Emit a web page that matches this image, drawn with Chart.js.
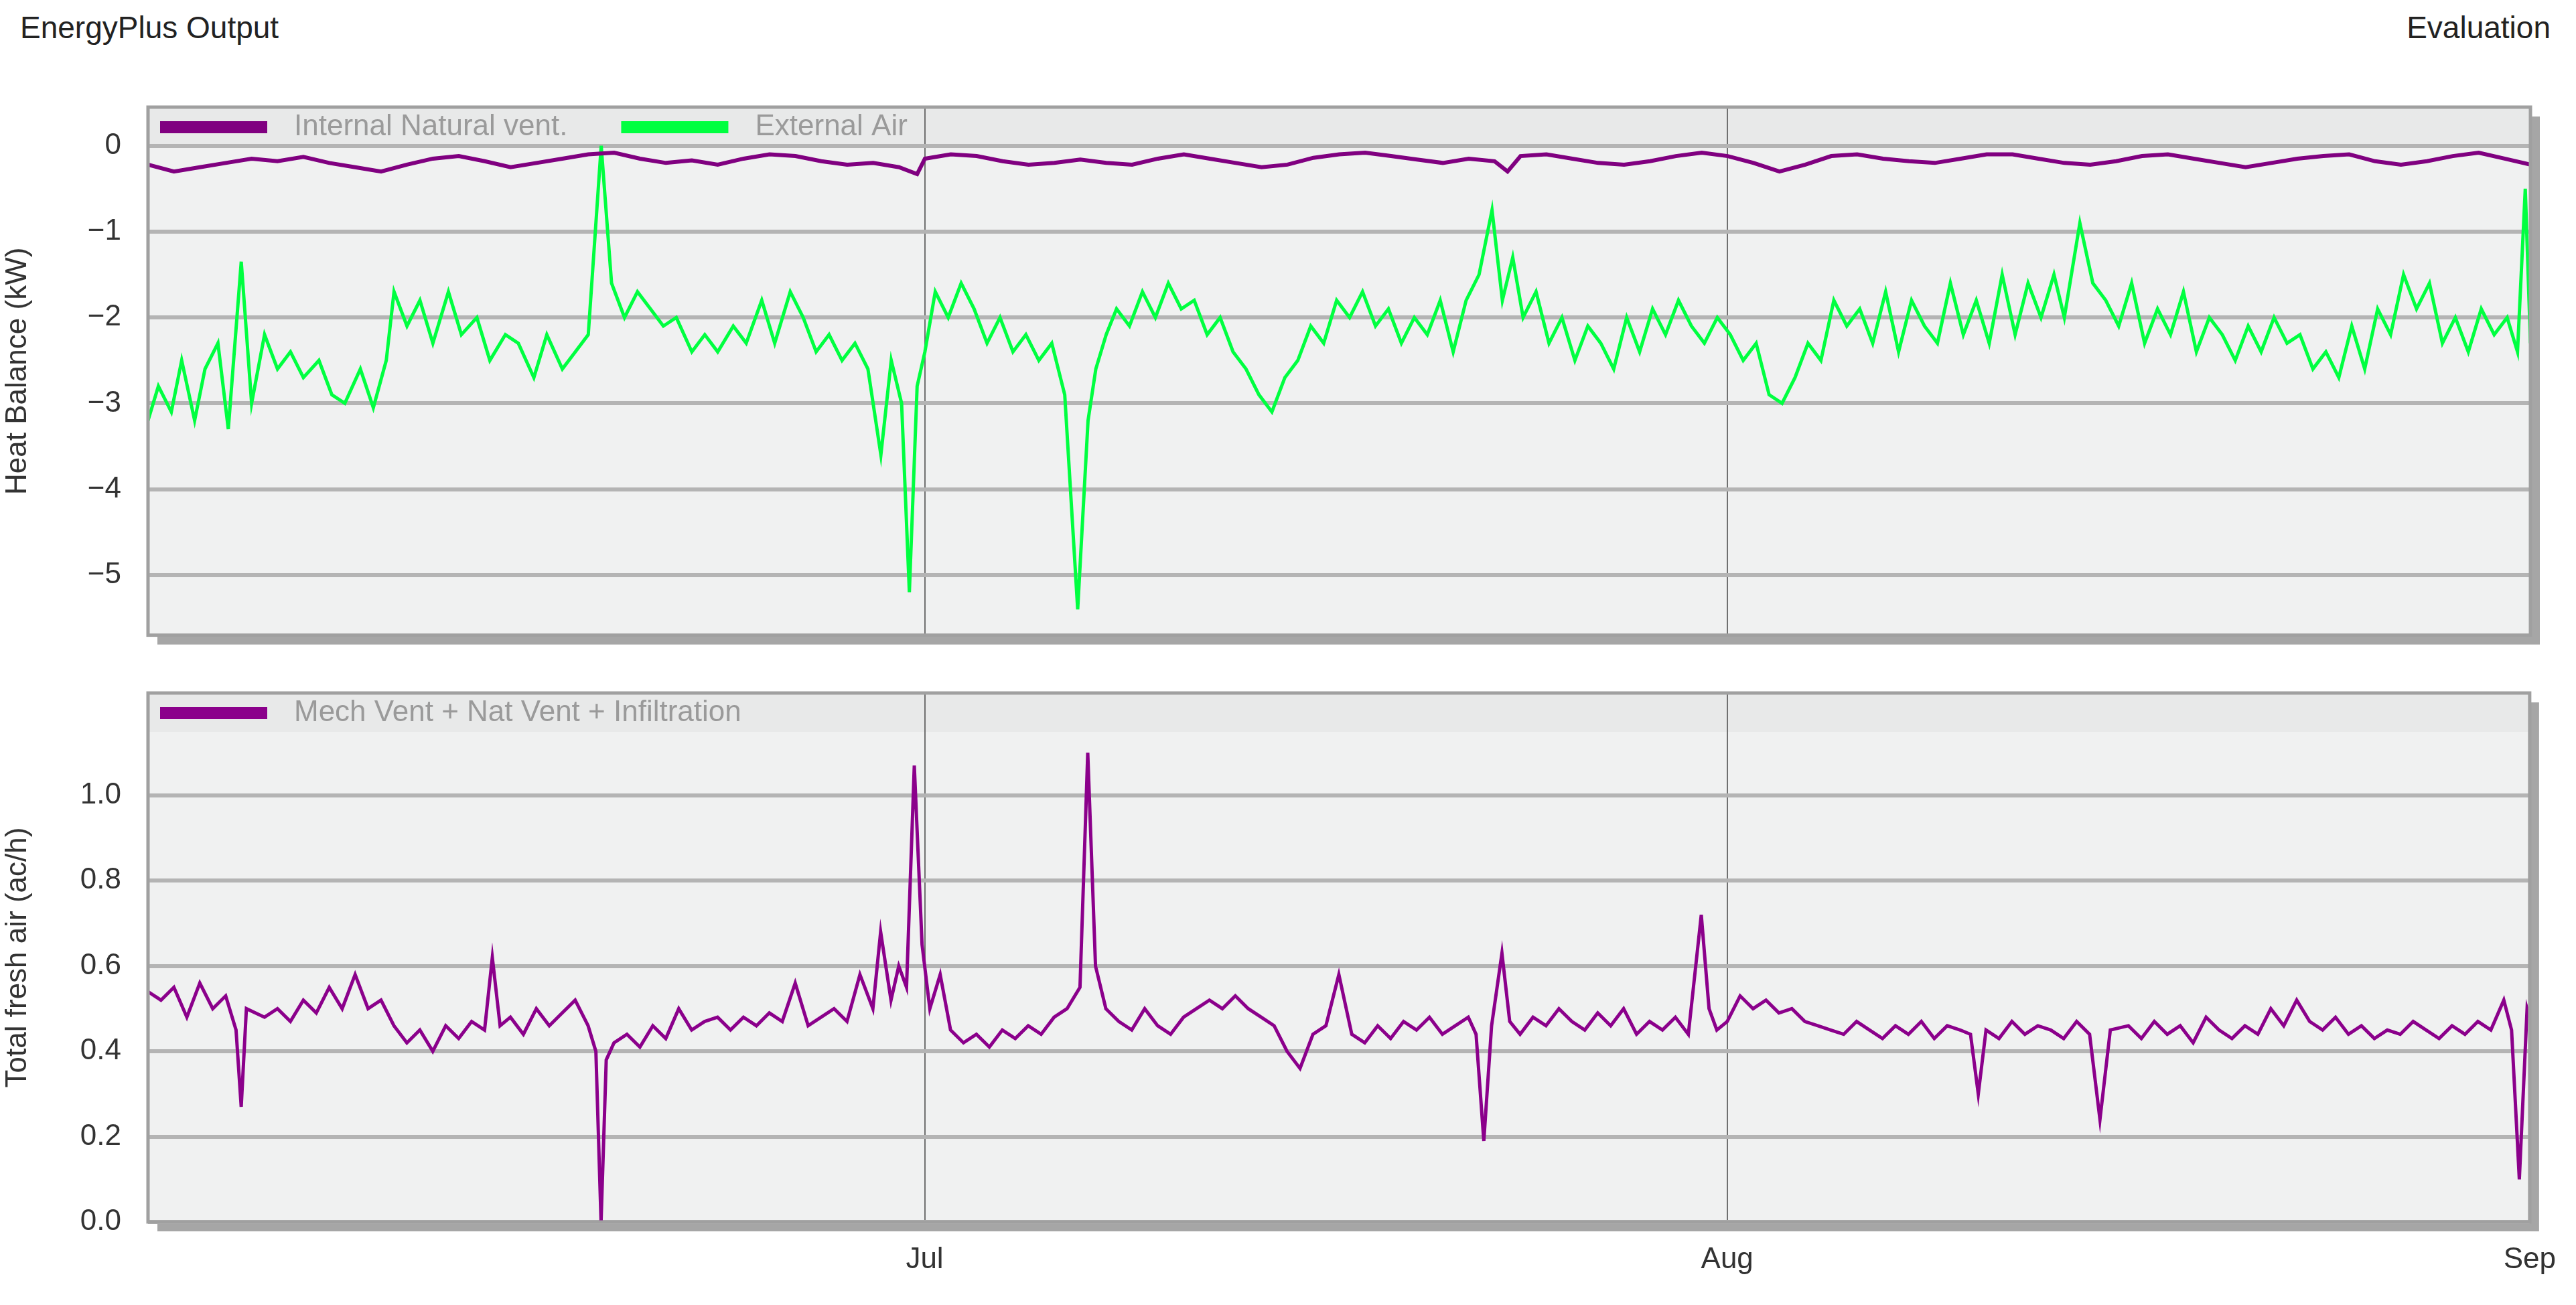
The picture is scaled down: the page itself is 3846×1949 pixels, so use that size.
<!DOCTYPE html>
<html>
<head>
<meta charset="UTF-8">
<title>EnergyPlus Output</title>
<script src="https://cdn.jsdelivr.net/npm/chart.js"></script>
<style>
    body { margin: 0; background: #fff; font-family: "Liberation Sans", Arial, sans-serif; }
    #wrap { position: relative; width: 3846px; height: 1949px; }
    .hdr { position: absolute; top: 14px; font-size: 46px; color: #222; }
    canvas { position: absolute; left: 0; }
</style>
</head>
<body>
<div id="wrap">
    <div class="hdr" style="left:30px">EnergyPlus Output</div>
    <div class="hdr" style="right:38px">Evaluation</div>
    <canvas id="heatChart" style="top:0"></canvas>
    <canvas id="airChart" style="top:960px"></canvas>
</div>
<script>
    // days since 1 Jun
    const monthTicks = [30, 61, 92];
    const monthLabels = ['Jul', 'Aug', 'Sep'];

    const intDays = [0,1,2,3,4,5,6,7,8,9,10,11,12,13,14,15,16,17,18,19,20,21,22,23,24,25,26,27,28,29,29.7,30,31,32,33,34,35,36,37,38,39,40,41,42,43,44,45,46,47,48,49,50,51,52,52.5,53,54,55,56,57,58,59,60,61,62,63,64,65,66,67,68,69,70,71,72,73,74,75,76,77,78,79,80,81,82,83,84,85,86,87,88,89,90,91,92];
    const intKW = [-0.22,-0.3,-0.25,-0.2,-0.15,-0.18,-0.13,-0.2,-0.25,-0.3,-0.22,-0.15,-0.12,-0.18,-0.25,-0.2,-0.15,-0.1,-0.08,-0.15,-0.2,-0.17,-0.22,-0.15,-0.1,-0.12,-0.18,-0.22,-0.2,-0.25,-0.33,-0.15,-0.1,-0.12,-0.18,-0.22,-0.2,-0.16,-0.2,-0.22,-0.15,-0.1,-0.15,-0.2,-0.25,-0.22,-0.14,-0.1,-0.08,-0.12,-0.16,-0.2,-0.15,-0.18,-0.3,-0.12,-0.1,-0.15,-0.2,-0.22,-0.18,-0.12,-0.08,-0.12,-0.2,-0.3,-0.22,-0.12,-0.1,-0.15,-0.18,-0.2,-0.15,-0.1,-0.1,-0.15,-0.2,-0.22,-0.18,-0.12,-0.1,-0.15,-0.2,-0.25,-0.2,-0.15,-0.12,-0.1,-0.18,-0.22,-0.18,-0.12,-0.08,-0.15,-0.22];

    const extDays = [0,0.4,0.9,1.3,1.8,2.2,2.7,3.1,3.6,4.0,4.5,5.0,5.5,6.0,6.6,7.1,7.6,8.2,8.7,9.2,9.5,10.0,10.5,11.0,11.6,12.1,12.7,13.2,13.8,14.3,14.9,15.4,16.0,16.5,17.0,17.5,17.9,18.4,18.9,19.4,19.9,20.4,21.0,21.5,22.0,22.6,23.1,23.7,24.2,24.8,25.3,25.8,26.3,26.8,27.3,27.8,28.3,28.7,29.1,29.4,29.7,30.0,30.4,30.9,31.4,31.9,32.4,32.9,33.4,33.9,34.4,34.9,35.4,35.9,36.3,36.6,37.0,37.4,37.9,38.4,38.9,39.4,39.9,40.4,40.9,41.4,41.9,42.4,42.9,43.4,43.9,44.4,44.9,45.4,45.9,46.4,46.9,47.4,47.9,48.4,48.9,49.4,49.9,50.4,50.9,51.4,51.9,52.3,52.7,53.1,53.6,54.1,54.6,55.1,55.6,56.1,56.6,57.1,57.6,58.1,58.6,59.1,59.6,60.1,60.6,61.1,61.6,62.1,62.6,63.1,63.6,64.1,64.6,65.1,65.6,66.1,66.6,67.1,67.6,68.1,68.6,69.1,69.6,70.1,70.6,71.1,71.6,72.1,72.6,73.1,73.6,74.0,74.3,74.6,75.1,75.6,76.1,76.6,77.1,77.6,78.1,78.6,79.1,79.6,80.1,80.6,81.1,81.6,82.1,82.6,83.1,83.6,84.1,84.6,85.1,85.6,86.1,86.6,87.1,87.6,88.1,88.6,89.1,89.6,90.1,90.6,91.1,91.5,91.8,92.0];
    const extKW = [-3.2,-2.8,-3.1,-2.5,-3.2,-2.6,-2.3,-3.3,-1.35,-3.0,-2.2,-2.6,-2.4,-2.7,-2.5,-2.9,-3.0,-2.6,-3.05,-2.5,-1.7,-2.1,-1.8,-2.3,-1.7,-2.2,-2.0,-2.5,-2.2,-2.3,-2.7,-2.2,-2.6,-2.4,-2.2,0.0,-1.6,-2.0,-1.7,-1.9,-2.1,-2.0,-2.4,-2.2,-2.4,-2.1,-2.3,-1.8,-2.3,-1.7,-2.0,-2.4,-2.2,-2.5,-2.3,-2.6,-3.6,-2.5,-3.0,-5.2,-2.8,-2.4,-1.7,-2.0,-1.6,-1.9,-2.3,-2.0,-2.4,-2.2,-2.5,-2.3,-2.9,-5.4,-3.2,-2.6,-2.2,-1.9,-2.1,-1.7,-2.0,-1.6,-1.9,-1.8,-2.2,-2.0,-2.4,-2.6,-2.9,-3.1,-2.7,-2.5,-2.1,-2.3,-1.8,-2.0,-1.7,-2.1,-1.9,-2.3,-2.0,-2.2,-1.8,-2.4,-1.8,-1.5,-0.75,-1.8,-1.3,-2.0,-1.7,-2.3,-2.0,-2.5,-2.1,-2.3,-2.6,-2.0,-2.4,-1.9,-2.2,-1.8,-2.1,-2.3,-2.0,-2.2,-2.5,-2.3,-2.9,-3.0,-2.7,-2.3,-2.5,-1.8,-2.1,-1.9,-2.3,-1.7,-2.4,-1.8,-2.1,-2.3,-1.6,-2.2,-1.8,-2.3,-1.5,-2.2,-1.6,-2.0,-1.5,-2.0,-1.45,-0.9,-1.6,-1.8,-2.1,-1.6,-2.3,-1.9,-2.2,-1.7,-2.4,-2.0,-2.2,-2.5,-2.1,-2.4,-2.0,-2.3,-2.2,-2.6,-2.4,-2.7,-2.1,-2.6,-1.9,-2.2,-1.5,-1.9,-1.6,-2.3,-2.0,-2.4,-1.9,-2.2,-2.0,-2.4,-0.5,-2.3];

    const airDays = [0,0.5,1,1.5,2,2.5,3,3.4,3.6,3.8,4.5,5,5.5,6,6.5,7,7.5,8,8.5,9,9.5,10,10.5,11,11.5,12,12.5,13,13.3,13.6,14,14.5,15,15.5,16,16.5,17,17.3,17.5,17.7,18,18.5,19,19.5,20,20.5,21,21.5,22,22.5,23,23.5,24,24.5,25,25.5,26,26.5,27,27.5,28,28.3,28.7,29,29.3,29.6,29.9,30.2,30.6,31,31.5,32,32.5,33,33.5,34,34.5,35,35.5,36,36.3,36.6,37,37.5,38,38.5,39,39.5,40,40.5,41,41.5,42,42.5,43,43.5,44,44.5,45,45.5,46,46.5,47,47.5,48,48.5,49,49.5,50,50.5,51,51.3,51.6,51.9,52.3,52.6,53,53.5,54,54.5,55,55.5,56,56.5,57,57.5,58,58.5,59,59.5,60,60.3,60.6,61,61.5,62,62.5,63,63.5,64,64.5,65,65.5,66,66.5,67,67.5,68,68.5,69,69.5,70,70.4,70.7,71,71.5,72,72.5,73,73.5,74,74.5,75,75.4,75.8,76.5,77,77.5,78,78.5,79,79.5,80,80.5,81,81.5,82,82.5,83,83.5,84,84.5,85,85.5,86,86.5,87,87.5,88,88.5,89,89.5,90,90.5,91,91.3,91.6,91.9,92];
    const airACH = [0.54,0.52,0.55,0.48,0.56,0.5,0.53,0.45,0.27,0.5,0.48,0.5,0.47,0.52,0.49,0.55,0.5,0.58,0.5,0.52,0.46,0.42,0.45,0.4,0.46,0.43,0.47,0.45,0.62,0.46,0.48,0.44,0.5,0.46,0.49,0.52,0.46,0.4,0.0,0.38,0.42,0.44,0.41,0.46,0.43,0.5,0.45,0.47,0.48,0.45,0.48,0.46,0.49,0.47,0.56,0.46,0.48,0.5,0.47,0.58,0.5,0.68,0.52,0.6,0.55,1.07,0.65,0.5,0.58,0.45,0.42,0.44,0.41,0.45,0.43,0.46,0.44,0.48,0.5,0.55,1.1,0.6,0.5,0.47,0.45,0.5,0.46,0.44,0.48,0.5,0.52,0.5,0.53,0.5,0.48,0.46,0.4,0.36,0.44,0.46,0.58,0.44,0.42,0.46,0.43,0.47,0.45,0.48,0.44,0.46,0.48,0.44,0.19,0.46,0.63,0.47,0.44,0.48,0.46,0.5,0.47,0.45,0.49,0.46,0.5,0.44,0.47,0.45,0.48,0.44,0.72,0.5,0.45,0.47,0.53,0.5,0.52,0.49,0.5,0.47,0.46,0.45,0.44,0.47,0.45,0.43,0.46,0.44,0.47,0.43,0.46,0.45,0.44,0.3,0.45,0.43,0.47,0.44,0.46,0.45,0.43,0.47,0.44,0.24,0.45,0.46,0.43,0.47,0.44,0.46,0.42,0.48,0.45,0.43,0.46,0.44,0.5,0.46,0.52,0.47,0.45,0.48,0.44,0.46,0.43,0.45,0.44,0.47,0.45,0.43,0.46,0.44,0.47,0.45,0.52,0.45,0.1,0.5,0.48];

    const toPoints = (xs, ys) => xs.map((x, i) => ({ x: x, y: ys[i] }));

    const FONT = '"Liberation Sans", Arial, sans-serif';

    // plot background, drop shadow and in-plot legend band
    const framePlugin = {
        id: 'frame',
        beforeDraw(chart) {
            const a = chart.chartArea, ctx = chart.ctx;
            ctx.save();
            ctx.fillStyle = '#a6a6a6';
            ctx.fillRect(a.left + 14, a.top + 14, a.width, a.height);
            ctx.fillStyle = '#f0f1f1';
            ctx.fillRect(a.left, a.top, a.width, a.height);
            ctx.fillStyle = '#e8e9e9';
            ctx.fillRect(a.left, a.top, a.width, 58);
            ctx.restore();
        },
        afterDraw(chart) {
            const a = chart.chartArea, ctx = chart.ctx;
            ctx.save();
            ctx.strokeStyle = '#a0a0a0';
            ctx.lineWidth = 5;
            ctx.strokeRect(a.left, a.top, a.width, a.height);
            ctx.font = '44px ' + FONT;
            ctx.textBaseline = 'middle';
            let x = a.left + 18;
            const y = a.top + 30;
            chart.data.datasets.forEach(ds => {
                ctx.fillStyle = ds.borderColor;
                ctx.fillRect(x, y - 9, 160, 18);
                x += 200;
                ctx.fillStyle = '#9a9a9a';
                ctx.fillText(ds.label, x, y);
                x += ctx.measureText(ds.label).width + 80;
            });
            ctx.restore();
        }
    };

    function xAxis(showLabels, height) {
        return {
            type: 'linear', min: 0, max: 92,
            afterBuildTicks: s => { s.ticks = monthTicks.map(v => ({ value: v })); },
            afterFit: s => { s.height = height; },
            grid: { color: '#707070', lineWidth: 2, drawTicks: false },
            border: { display: false },
            ticks: {
                display: showLabels, padding: 30, color: '#333',
                font: { size: 44, family: FONT },
                callback: v => monthLabels[monthTicks.indexOf(v)]
            }
        };
    }

    function yAxis(min, max, ticks, title, fmt) {
        return {
            min: min, max: max,
            afterBuildTicks: s => { s.ticks = ticks.map(v => ({ value: v })); },
            afterFit: s => { s.width = 221; },
            grid: { color: '#b4b4b4', lineWidth: 6, drawTicks: false },
            border: { display: false },
            ticks: { padding: 40, color: '#333', font: { size: 44, family: FONT }, callback: fmt },
            title: { display: true, text: title, color: '#333', font: { size: 44, family: FONT }, padding: 0 }
        };
    }

    const common = {
        responsive: false, animation: false,
        plugins: { legend: { display: false }, tooltip: { enabled: false } },
        elements: { point: { radius: 0 }, line: { tension: 0 } }
    };

    function makeCanvas(id, h) {
        const c = document.getElementById(id);
        c.width = 3846; c.height = h;
        return c;
    }

    new Chart(makeCanvas('heatChart', 1015), {
        type: 'line',
        data: { datasets: [
            { label: 'Internal Natural vent.', data: toPoints(intDays, intKW), borderColor: '#800080', borderWidth: 6 },
            { label: 'External Air', data: toPoints(extDays, extKW), borderColor: '#00ff40', borderWidth: 5 }
        ] },
        options: Object.assign({}, common, {
            layout: { padding: { top: 160, right: 68, left: 0, bottom: 0 } },
            scales: {
                x: xAxis(false, 13),
                y: yAxis(-5.7, 0.45, [-5, -4, -3, -2, -1, 0], 'Heat Balance (kW)', v => String(v).replace('-', '\u2212'))
            }
        }),
        plugins: [framePlugin]
    });

    new Chart(makeCanvas('airChart', 989), {
        type: 'line',
        data: { datasets: [
            { label: 'Mech Vent + Nat Vent + Infiltration', data: toPoints(airDays, airACH), borderColor: '#8b008b', borderWidth: 5 }
        ] },
        options: Object.assign({}, common, {
            layout: { padding: { top: 75, right: 68, left: 0, bottom: 0 } },
            scales: {
                x: xAxis(true, 124),
                y: yAxis(0, 1.24, [0, 0.2, 0.4, 0.6, 0.8, 1.0], 'Total fresh air (ac/h)', v => v.toFixed(1))
            }
        }),
        plugins: [framePlugin]
    });
</script>
</body>
</html>
